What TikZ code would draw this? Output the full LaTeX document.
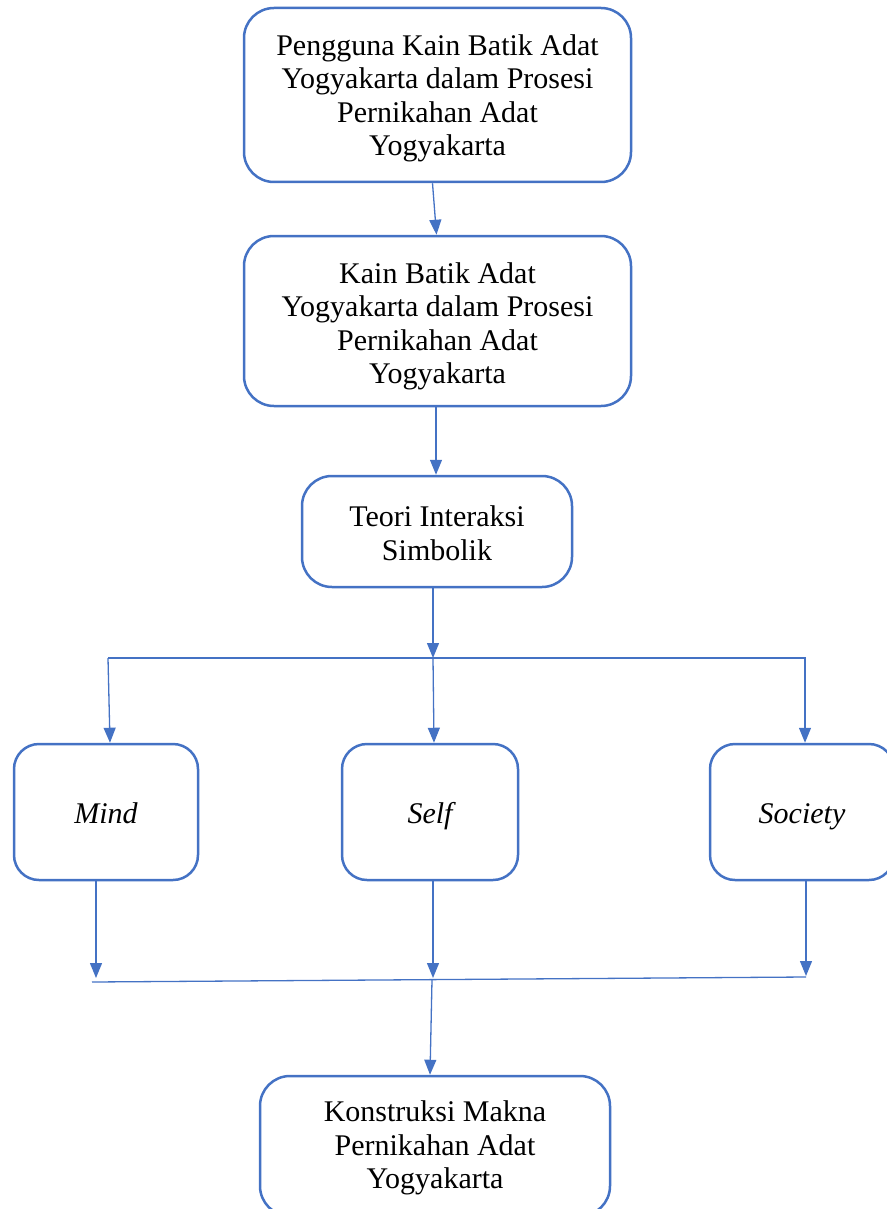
\documentclass[tikz,border=0pt]{standalone}
\usepackage{fontspec}
\setmainfont{Liberation Serif}
\usetikzlibrary{arrows.meta}
\definecolor{wblue}{HTML}{4472C4}
\newcommand{\topgap}[1]{\rule{0pt}{#1}}
\begin{document}
\begin{tikzpicture}[x=1pt,y=-1pt,
  box/.style={draw=wblue, line width=2.5pt, rounded corners=30pt, align=center,
    font=\fontsize{30}{33.5}\selectfont, inner sep=0pt},
  sbox/.style={box, rounded corners=25pt, minimum width=184pt, minimum height=136pt,
    text height=24pt, text depth=2pt, font=\fontsize{30}{33.5}\selectfont\itshape},
  conn/.style={draw=wblue, line width=1.3pt},
  arr/.style={conn, -{Triangle[length=15pt,width=12pt]}}]
\useasboundingbox (0,0) rectangle (886,1209);
\node[box, minimum width=387pt, minimum height=174pt] (b1) at (437.5,95)
  {\topgap{27pt}Pengguna Kain Batik Adat\\Yogyakarta dalam Prosesi\\Pernikahan Adat\\Yogyakarta};
\node[box, minimum width=387pt, minimum height=170pt] (b2) at (437.5,321)
  {\topgap{31pt}Kain Batik Adat\\Yogyakarta dalam Prosesi\\Pernikahan Adat\\Yogyakarta};
\node[box, minimum width=270pt, minimum height=111pt] (b3) at (437,531.5)
  {\topgap{24.5pt}Teori Interaksi\\Simbolik};
\node[sbox] (mind) at (106,812) {Mind};
\node[sbox, minimum width=176pt] (self) at (430,812) {Self};
\node[sbox] (soc) at (802,812) {Society};
\node[box, minimum width=350pt, minimum height=140pt] (bot) at (435,1146)
  {\topgap{24.5pt}Konstruksi Makna\\Pernikahan Adat\\Yogyakarta};
% upper connectors
\draw[arr] ([xshift=-5pt]b1.south) -- ([xshift=-1pt]b2.north);
\draw[arr] ([xshift=-1.5pt]b2.south) -- ([xshift=-1pt]b3.north);
\coordinate (hl) at (108,658);
\coordinate (hm) at (433,658);
\coordinate (hr) at (806,658);
\draw[arr] ([xshift=-4pt]b3.south) -- (hm);
\draw[conn] (hl) -- (hr);
\draw[arr] (hl) -- ([xshift=4pt]mind.north);
\draw[arr] (hm) -- ([xshift=4pt]self.north);
\draw[arr] ([xshift=-1pt]hr) -- ([xshift=3pt]soc.north);
% lower connectors
\coordinate (la) at (96,978);
\coordinate (lb) at (433,978);
\coordinate (lc) at (806,976);
\coordinate (ll) at (92,982);
\coordinate (lr) at (806,977);
\coordinate (lm) at (432,980);
\draw[arr] ([xshift=-10pt]mind.south) -- (la);
\draw[arr] ([xshift=3pt]self.south) -- (lb);
\draw[arr] ([xshift=4pt]soc.south) -- (lc);
\draw[conn] (ll) -- (lr);
\draw[arr] (lm) -- ([xshift=-5pt]bot.north);
\end{tikzpicture}
\end{document}
